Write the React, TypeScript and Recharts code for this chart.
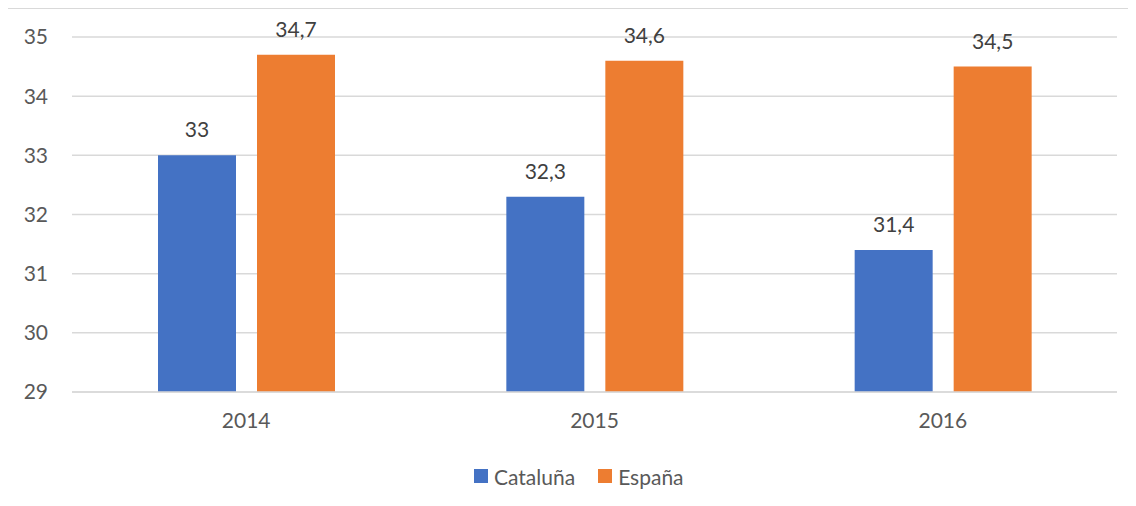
import React from "react";
import { BarChart, Bar, XAxis, YAxis, CartesianGrid, Legend, LabelList } from "recharts";

const years = ["2014", "2015", "2016"];
const cataluna = [33, 32.3, 31.4];
const espana = [34.7, 34.6, 34.5];
const yTicks = [29, 30, 31, 32, 33, 34, 35];
const seriesNames = ["Cataluña", "España"];
const seriesColors = ["#4472C4", "#ED7D31"];

const data = years.map((y, i) => ({ year: y, cat: cataluna[i], esp: espana[i] }));

const FONT = "Lato, 'Open Sans', sans-serif";
const fmt = (v: any) => String(v).replace(".", ",");

const LegendContent = () => (
  <div
    style={{
      height: 44,
      display: "flex",
      alignItems: "center",
      paddingLeft: 466,
      fontFamily: FONT,
      fontSize: 21,
      color: "#595959",
    }}
  >
    {seriesNames.map((n, i) => (
      <div key={n} style={{ display: "flex", alignItems: "center", marginRight: 23 }}>
        <div style={{ width: 14, height: 14, background: seriesColors[i], marginRight: 6 }} />
        <span>{n}</span>
      </div>
    ))}
  </div>
);

export default function App() {
  return (
    <div style={{ position: "relative", width: 1128, height: 498, fontFamily: FONT }}>
      <BarChart
        width={1128}
        height={498}
        data={data}
        margin={{ top: 29, right: 19, left: 0, bottom: 8 }}
        barSize={78}
        barGap={21}
      >
        <CartesianGrid vertical={false} stroke="#d9d9d9" strokeWidth={1.5} />
        <XAxis
          dataKey="year"
          height={62}
          tickLine={false}
          axisLine={{ stroke: "#d9d9d9", strokeWidth: 1.5 }}
          tickMargin={15}
          tick={{ fill: "#595959", fontSize: 21, fontFamily: FONT }}
        />
        <YAxis
          width={64}
          domain={[29, 35]}
          ticks={yTicks}
          interval={0}
          tickLine={false}
          axisLine={false}
          tickMargin={18}
          tick={{ fill: "#595959", fontSize: 21, fontFamily: FONT }}
        />
        <Legend verticalAlign="bottom" content={<LegendContent />} />
        <Bar dataKey="cat" name={seriesNames[0]} fill={seriesColors[0]} isAnimationActive={false}>
          <LabelList dataKey="cat" position="top" offset={18} formatter={fmt} style={{ fill: "#404040", fontSize: 21, fontFamily: FONT }} />
        </Bar>
        <Bar dataKey="esp" name={seriesNames[1]} fill={seriesColors[1]} isAnimationActive={false}>
          <LabelList dataKey="esp" position="top" offset={18} formatter={fmt} style={{ fill: "#404040", fontSize: 21, fontFamily: FONT }} />
        </Bar>
      </BarChart>
      <div
        style={{
          position: "absolute",
          left: -1,
          top: 0,
          width: 1130,
          height: 498,
          borderLeft: "1.5px solid #d9d9d9",
          borderTop: "1.5px solid #d9d9d9",
          pointerEvents: "none",
          boxSizing: "border-box",
        }}
      />
    </div>
  );
}
